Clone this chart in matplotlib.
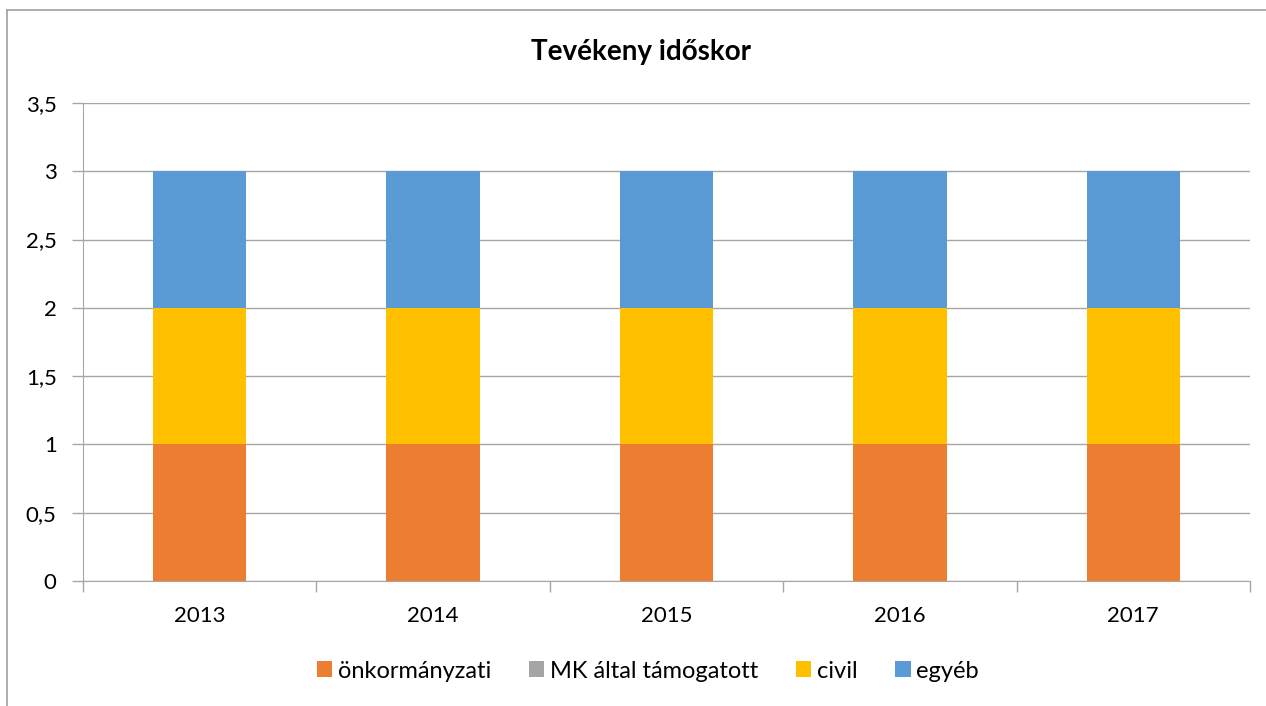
import matplotlib.pyplot as plt
from matplotlib.lines import Line2D
from matplotlib.ticker import FuncFormatter
import numpy as np

plt.rcParams['font.family'] = ['Lato', 'DejaVu Sans']

# adatok
years = ['2013', '2014', '2015', '2016', '2017']
series_names = ['önkormányzati', 'MK által támogatott', 'civil', 'egyéb']
onkormanyzati = [1, 1, 1, 1, 1]
mk_tamogatott = [0, 0, 0, 0, 0]
civil = [1, 1, 1, 1, 1]
egyeb = [1, 1, 1, 1, 1]
colors = ['#ED7D31', '#A5A5A5', '#FFC000', '#5B9BD5']

W, H = 1266, 706
fig = plt.figure(figsize=(W / 100, H / 100), dpi=100)
ax = fig.add_axes([83 / W, 1 - 581 / H, (1250 - 83) / W, (581 - 103) / H])

x = np.arange(len(years))
bottom = np.zeros(len(years))
for name, vals, col in zip(series_names, [onkormanyzati, mk_tamogatott, civil, egyeb], colors):
    ax.bar(x, vals, width=0.4, bottom=bottom, color=col, label=name, zorder=3)
    bottom += np.array(vals)

ax.set_xlim(-0.5, len(years) - 0.5)
ax.set_ylim(0, 3.5)
ax.set_yticks(np.arange(0, 3.51, 0.5))
ax.yaxis.set_major_formatter(FuncFormatter(lambda v, p: ('%g' % v).replace('.', ',')))
ax.grid(axis='y', color='#A6A6A6', linewidth=1, zorder=0)

# kategória határok
ax.set_xticks(x)
ax.set_xticklabels(years)
ax.set_xticks(np.arange(-0.5, len(years), 1), minor=True)
ax.tick_params(axis='x', which='major', length=0, pad=18, labelsize=16)
ax.tick_params(axis='x', which='minor', length=8, color='#A6A6A6', width=1)
ax.tick_params(axis='y', length=8, color='#A6A6A6', width=1, labelsize=16, pad=11)

for s in ['top', 'right']:
    ax.spines[s].set_visible(False)
ax.spines['left'].set_color('#A6A6A6')
ax.spines['bottom'].set_color('#A6A6A6')

fig.text(641 / W, 1 - 52 / H, 'Tevékeny időskor', ha='center', va='center',
         fontsize=20, fontweight='bold')

leg = fig.legend(loc='center', bbox_to_anchor=(648 / W, 1 - 671 / H), ncol=4,
                 frameon=False, fontsize=17, handlelength=0.64, handleheight=0.64,
                 handletextpad=0.25, columnspacing=1.6)

# külső keret
fig.add_artist(Line2D([7 / W, 1], [1 - 10 / H, 1 - 10 / H], color='#A0A0A0', lw=1.2,
                      transform=fig.transFigure))
fig.add_artist(Line2D([7 / W, 7 / W], [0, 1 - 10 / H], color='#A0A0A0', lw=1.2,
                      transform=fig.transFigure))

fig.savefig('out.png', dpi=100)
